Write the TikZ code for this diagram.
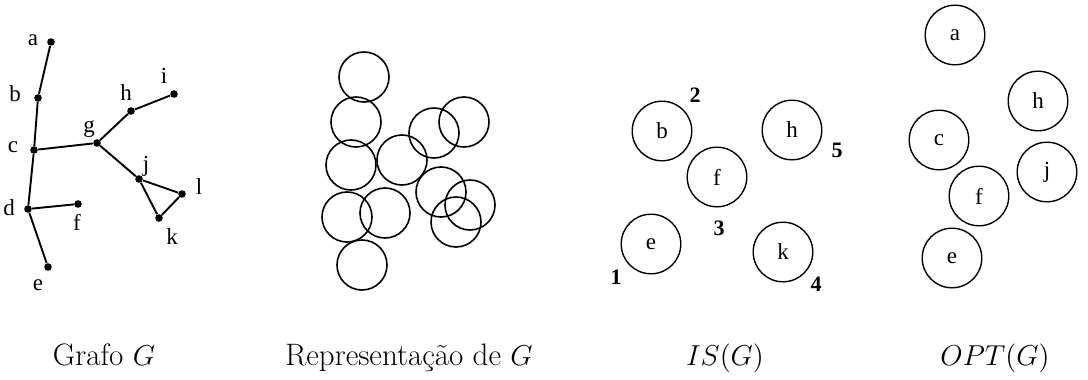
\documentclass[tikz,border=0pt]{standalone}
\usepackage{fontspec}
\newfontfamily\lblfont{Liberation Serif}
\usepackage{tikz}
\usetikzlibrary{positioning}

\begin{document}
\begin{tikzpicture}[x=0.5pt, y=-0.5pt,
    dot/.style={circle, fill=black, inner sep=0pt, minimum size=3.8pt},
    lbl/.style={inner sep=0pt, font=\lblfont\fontsize{11.5}{11.5}\selectfont},
    num/.style={inner sep=0pt, font=\lblfont\bfseries\fontsize{11}{11}\selectfont},
    ring/.style={circle, draw, line width=0.8pt, inner sep=0pt, minimum size=25pt},
    disk/.style={circle, draw, line width=0.7pt, inner sep=0pt, minimum size=29.8pt,
        font=\lblfont\fontsize{11.5}{11.5}\selectfont},
    capt/.style={inner sep=0pt, font=\fontsize{15.5}{18}\selectfont}]
    \useasboundingbox (0,0) rectangle (1088,380);

    % Grafo G
    \node[dot] (a) at (51,42) {};
    \node[dot] (b) at (38,98) {};
    \node[dot] (c) at (34,150) {};
    \node[dot] (d) at (28,209) {};
    \node[dot] (e) at (48,267) {};
    \node[dot] (f) at (78,204) {};
    \node[dot] (g) at (97,143) {};
    \node[dot] (h) at (131,111) {};
    \node[dot] (i) at (174,94) {};
    \node[dot] (j) at (139,179) {};
    \node[dot] (l) at (182,194) {};
    \node[dot] (k) at (159,218) {};
    \draw[line width=0.95pt] (a) -- (b) -- (c) -- (d) -- (e);
    \draw[line width=0.95pt] (d) -- (f);
    \draw[line width=0.95pt] (c) -- (g) -- (h) -- (i);
    \draw[line width=0.95pt] (g) -- (j) -- (l) -- (k) -- (j);
    \node[lbl] (la) at (33,40) {a};
    \node[lbl] (lb) at (15,94) {b};
    \node[lbl] (lc) at (13,147) {c};
    \node[lbl] (ld) at (9,208) {d};
    \node[lbl] (le) at (38,285) {e};
    \node[lbl] (lf) at (77,222) {f};
    \node[lbl] (lg) at (89,129) {g};
    \node[lbl] (lh) at (126,93) {h};
    \node[lbl] (li) at (164,76) {i};
    \node[lbl] (lj) at (146,166) {j};
    \node[lbl] (ll) at (199,187) {l};
    \node[lbl] (lk) at (172,237) {k};

    % Representacao de G
    \node[ring] (r1) at (364,77) {};
    \node[ring] (r2) at (356,122) {};
    \node[ring] (r3) at (351,165) {};
    \node[ring] (r4) at (347,217) {};
    \node[ring] (r5) at (385,213) {};
    \node[ring] (r6) at (362,265) {};
    \node[ring] (r7) at (402,160) {};
    \node[ring] (r8) at (434,133) {};
    \node[ring] (r9) at (464,122) {};
    \node[ring] (r10) at (441,192) {};
    \node[ring] (r11) at (470,205) {};
    \node[ring] (r12) at (456,222) {};

    % IS(G)
    \node[disk] (is-b) at (662,131) {b};
    \node[disk] (is-h) at (792,130) {h};
    \node[disk] (is-f) at (717,177) {f};
    \node[disk] (is-e) at (651,244) {e};
    \node[disk] (is-k) at (783,252) {k};
    \node[num] (n2) at (695,95) {2};
    \node[num] (n5) at (837,150) {5};
    \node[num] (n3) at (719,228) {3};
    \node[num] (n1) at (616,277) {1};
    \node[num] (n4) at (816,284) {4};

    % OPT(G)
    \node[disk] (opt-a) at (955,35) {a};
    \node[disk] (opt-h) at (1038,101) {h};
    \node[disk] (opt-c) at (939,140) {c};
    \node[disk] (opt-j) at (1047,172) {j};
    \node[disk] (opt-f) at (979,196) {f};
    \node[disk] (opt-e) at (952,258) {e};

    % legendas
    \node[capt, anchor=base] (c1) at (104,365) {Grafo $G$};
    \node[capt, anchor=base] (c2) at (409,365) {Representação de $G$};
    \node[capt, anchor=base] (c3) at (725,365) {$IS(G)$};
    \node[capt, anchor=base] (c4) at (995,365) {$OPT(G)$};
\end{tikzpicture}
\end{document}
